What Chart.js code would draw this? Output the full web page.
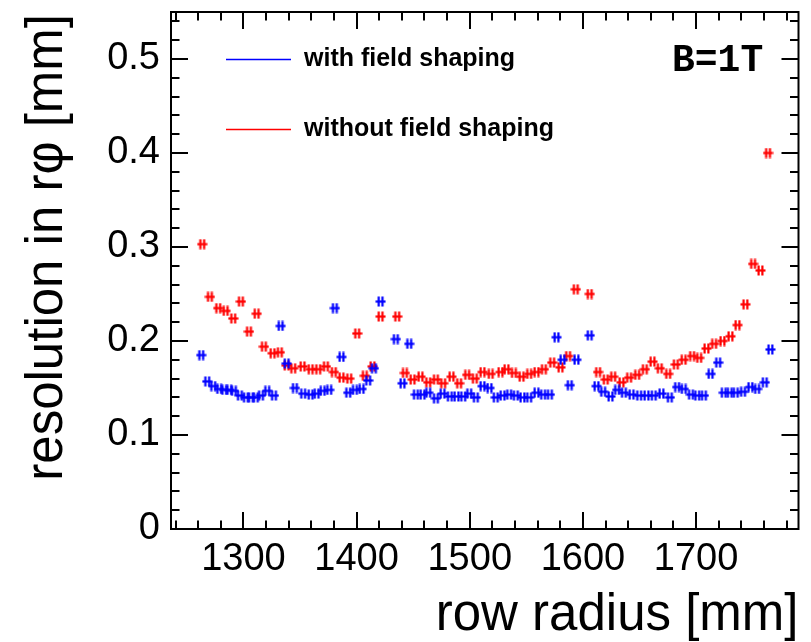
<!DOCTYPE html>
<html><head><meta charset="utf-8">
<script src="https://cdn.jsdelivr.net/npm/chart.js@4/dist/chart.umd.min.js"></script>
<style>html,body{margin:0;padding:0;background:#fff;}#wrap{width:811px;height:642px;}</style>
</head><body><div id="wrap"><canvas id="c" width="811" height="642"></canvas></div>
<script>
// ---- data (row radius in mm, resolution in mm) ----
const withRadius = [1262.7,1268.0,1273.3,1278.6,1283.0,1287.5,1291.6,1296.9,1302.2,1306.6,1311.0,1315.5,1321.0,1327.0,1332.9,1338.2,
  1345.5,1352.8,1359.4,1364.7,1370.0,1375.8,1380.8,1386.7,1392.6,1398.5,1404.4,1410.2,1415.3,1421.2,
  1434.7,1440.6,1446.5,1452.4,1458.3,1463.3,1470.1,1476.0,1482.4,1488.3,1494.2,1499.5,1505.4,1511.3,1517.5,
  1523.0,1529.0,1534.8,1540.7,1546.6,1552.5,1559.0,1564.8,1570.8,1576.7,1582.0,1588.4,1594.3,
  1606.0,1612.0,1617.9,1624.4,1630.2,1636.2,1643.0,1649.7,1656.2,1662.6,1669.4,1676.8,1683.2,1689.1,1695.5,1701.0,
  1706.9,1712.8,1719.5,1724.5,1729.8,1735.1,1741.5,1748.0,1753.9,1760.7,1765.7];
const withRes = [0.185,0.157,0.152,0.149,0.148,0.148,0.147,0.142,0.140,0.140,0.140,0.142,0.147,0.142,0.216,0.176,
  0.150,0.144,0.143,0.144,0.147,0.148,0.235,0.183,0.145,0.148,0.149,0.158,0.171,0.242,
  0.202,0.155,0.197,0.143,0.143,0.145,0.139,0.144,0.141,0.141,0.141,0.144,0.140,0.152,0.150,
  0.140,0.142,0.143,0.142,0.140,0.140,0.145,0.143,0.143,0.204,0.180,0.153,0.180,
  0.206,0.152,0.146,0.141,0.148,0.145,0.143,0.142,0.142,0.142,0.144,0.140,0.151,0.149,0.143,0.142,
  0.142,0.165,0.177,0.145,0.145,0.145,0.146,0.151,0.149,0.156,0.191];
const withoutRadius = [1263.6,1270.4,1277.7,1284.3,1291.0,1297.8,1304.9,1311.7,1318.1,1325.8,1332.2,1338.2,
  1344.0,1352.3,1359.4,1366.1,1372.9,1379.9,1386.7,1393.5,1400.5,1407.3,1414.1,1421.2,
  1435.9,1442.7,1449.5,1456.5,1463.3,1470.1,1476.5,1483.9,1490.6,1497.7,1504.5,1511.3,1518.5,
  1527.2,1532.5,1539.0,1545.8,1552.5,1559.0,1565.5,1572.8,1580.2,1586.9,1593.7,
  1606.0,1613.4,1620.2,1626.7,1634.1,1640.8,1647.9,1654.7,1661.5,1667.9,1675.3,1682.1,1689.0,1696.5,
  1702.7,1709.2,1715.9,1723.3,1730.4,1736.6,1743.6,1750.4,1756.9,1763.6];
const withoutRes = [0.303,0.247,0.235,0.232,0.224,0.242,0.210,0.229,0.194,0.187,0.188,0.174,
  0.171,0.173,0.170,0.170,0.173,0.167,0.161,0.160,0.208,0.163,0.173,0.226,
  0.226,0.166,0.159,0.162,0.156,0.159,0.155,0.162,0.155,0.164,0.160,0.167,0.165,
  0.167,0.170,0.166,0.162,0.165,0.167,0.170,0.177,0.172,0.184,0.255,
  0.250,0.167,0.159,0.162,0.156,0.161,0.164,0.170,0.178,0.171,0.165,0.175,0.180,0.184,
  0.182,0.192,0.197,0.200,0.205,0.217,0.239,0.282,0.275,0.400];
const seriesNames = ['with field shaping', 'without field shaping'];
const xTickValues = [1300, 1400, 1500, 1600, 1700];
const yTickValues = [0, 0.1, 0.2, 0.3, 0.4, 0.5];
const yTickLabels = ['0', '0.1', '0.2', '0.3', '0.4', '0.5'];
const xTitle = 'row radius [mm]';
const yTitle = 'resolution in r\u03C6 [mm]';
const fieldLabel = 'B=1T';

// ---- styles ----
const BLUE = '#0000ff', RED = '#ff0000';
function glyph(color) {
  const c = document.createElement('canvas');
  c.width = 11; c.height = 11;
  const g = c.getContext('2d');
  g.fillStyle = color;
  g.fillRect(2.5, 0.5, 2.2, 10);
  g.fillRect(6.3, 0.5, 2.2, 10);
  g.fillRect(0.5, 4.4, 10, 2.2);
  return c;
}
const pts = (xs, ys) => xs.map((x, i) => ({x: x, y: ys[i]}));

const decor = {
  id: 'decor',
  afterDraw(chart) {
    const ctx = chart.ctx;
    const {left, right, top, bottom} = chart.chartArea;
    const xs = chart.scales.x, ys = chart.scales.y;
    ctx.save();
    ctx.strokeStyle = '#000';
    ctx.lineWidth = 2;
    ctx.strokeRect(left, top, right - left, bottom - top);
    ctx.beginPath();
    for (let v = Math.ceil(xs.min / 20) * 20; v <= xs.max; v += 20) {
      const px = Math.round(xs.getPixelForValue(v));
      const L = (v % 100 === 0) ? 17 : 8.5;
      ctx.moveTo(px, bottom); ctx.lineTo(px, bottom - L);
      ctx.moveTo(px, top); ctx.lineTo(px, top + L);
    }
    for (let k = 0; k * 0.02 <= ys.max + 1e-9; k++) {
      const py = Math.round(ys.getPixelForValue(k * 0.02));
      const L = (k % 5 === 0) ? 17 : 8.5;
      ctx.moveTo(left, py); ctx.lineTo(left + L, py);
      ctx.moveTo(right, py); ctx.lineTo(right - L, py);
    }
    ctx.stroke();

    ctx.fillStyle = '#000';
    ctx.font = '51px "Liberation Sans", Arial, sans-serif';
    ctx.textAlign = 'right';
    ctx.textBaseline = 'alphabetic';
    ctx.fillText(xTitle, right, 630);
    ctx.save();
    ctx.translate(62, 14);
    ctx.rotate(-Math.PI / 2);
    ctx.fillText(yTitle, 0, 0);
    ctx.restore();

    // legend
    ctx.lineWidth = 1.5;
    const leg = [[BLUE, seriesNames[0], 59.5], [RED, seriesNames[1], 129.5]];
    ctx.font = 'bold 25px "Liberation Sans", Arial, sans-serif';
    ctx.textAlign = 'left';
    ctx.textBaseline = 'middle';
    for (const [col, name, y] of leg) {
      ctx.strokeStyle = col;
      ctx.beginPath(); ctx.moveTo(226, y); ctx.lineTo(291, y); ctx.stroke();
      ctx.fillStyle = '#000';
      ctx.fillText(name, 304, y);
    }
    ctx.font = 'bold 38px "Liberation Mono", monospace';
    ctx.textBaseline = 'alphabetic';
    ctx.fillText(fieldLabel, 672, 71);
    ctx.restore();
  }
};

new Chart(document.getElementById('c'), {
  type: 'scatter',
  data: {
    datasets: [
      {label: seriesNames[0], data: pts(withRadius, withRes), pointStyle: glyph(BLUE), pointRadius: 5, order: 0, showLine: false},
      {label: seriesNames[1], data: pts(withoutRadius, withoutRes), pointStyle: glyph(RED), pointRadius: 5, order: 1, showLine: false}
    ]
  },
  options: {
    responsive: false,
    animation: false,
    devicePixelRatio: 1,
    layout: {padding: {top: 12, right: 12.5, left: 0, bottom: 0}},
    plugins: {legend: {display: false}, tooltip: {enabled: false}},
    scales: {
      x: {
        type: 'linear', min: 1236, max: 1790.5,
        afterBuildTicks: s => { s.ticks = xTickValues.map(v => ({value: v})); },
        afterFit: s => { s.height = 113; s.paddingLeft = 0; s.paddingRight = 0; },
        grid: {display: false, drawTicks: false},
        border: {display: false},
        ticks: {font: {family: '"Liberation Sans", Arial, sans-serif', size: 38}, color: '#000', padding: 7.5,
          maxRotation: 0, autoSkip: false, callback: (v) => String(v)}
      },
      y: {
        type: 'linear', min: 0, max: 0.55,
        afterBuildTicks: s => { s.ticks = yTickValues.map(v => ({value: v})); },
        afterFit: s => { s.width = 171; s.paddingTop = 0; s.paddingBottom = 0; },
        grid: {display: false, drawTicks: false},
        border: {display: false},
        ticks: {font: {family: '"Liberation Sans", Arial, sans-serif', size: 38}, color: '#000', padding: 11,
          autoSkip: false, callback: (v, i) => yTickLabels[i]}
      }
    }
  },
  plugins: [decor]
});
</script></body></html>
